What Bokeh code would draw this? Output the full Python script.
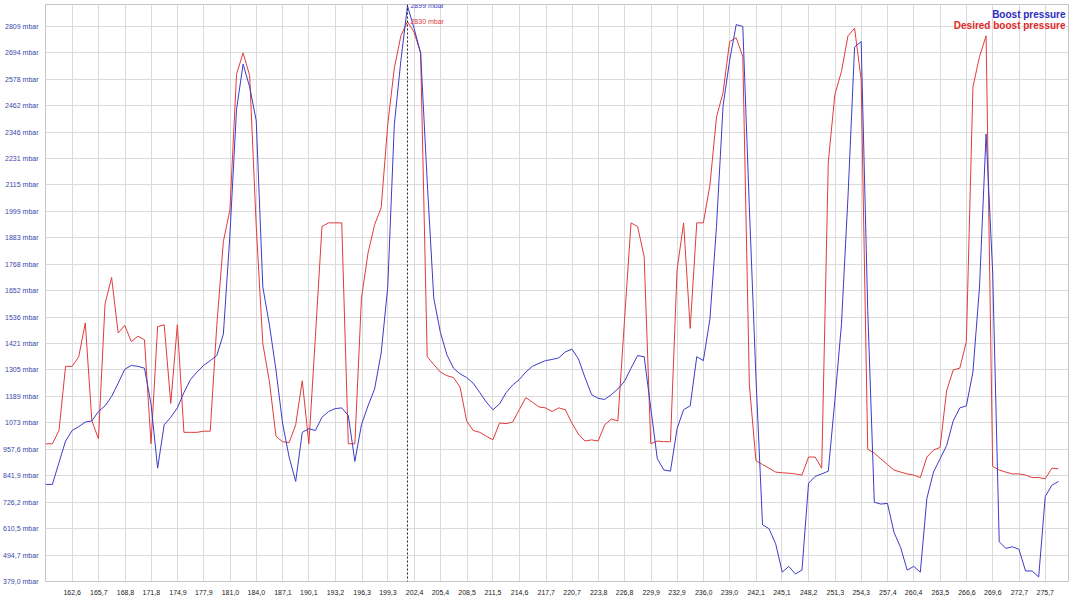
from bokeh.plotting import figure
from bokeh.models import FixedTicker, Span, Label, Range1d
from bokeh.embed import file_html
from bokeh.resources import INLINE

# Boost pressure (mbar), one sample every ~0.764 s
boost = [
    804, 804, 900, 994, 1040, 1057, 1077, 1082, 1123, 1148,
    1189, 1247, 1308, 1325, 1321, 1313, 1156, 875, 1065, 1098,
    1139, 1206, 1263, 1296, 1325, 1346, 1368, 1462, 1900, 2445,
    2644, 2544, 2396, 1668, 1503, 1305, 1073, 924, 817, 1032,
    1048, 1040, 1098, 1123, 1136, 1139, 1106, 905, 1065, 1148,
    1222, 1379, 1668, 2379, 2660, 2899, 2801, 2693, 2131, 1619,
    1470, 1371, 1313, 1288, 1272, 1247, 1206, 1164, 1131, 1156,
    1206, 1239, 1263, 1296, 1321, 1334, 1346, 1351, 1358, 1384,
    1396, 1354, 1272, 1197, 1181, 1176, 1197, 1222, 1255, 1313,
    1368, 1363, 1139, 916, 867, 862, 1048, 1131, 1148, 1363,
    1346, 1528, 1933, 2462, 2660, 2817, 2809, 2015, 1272, 627,
    610, 544, 420, 445, 412, 429, 809, 839, 850, 862,
    1172, 1503, 2065, 2718, 2743, 1569, 726, 718, 721, 594,
    528, 429, 445, 420, 743, 858, 916, 974, 1082, 1139,
    1148, 1296, 1668, 2338, 1734, 553, 524, 531, 520, 425,
    425, 399, 751, 800, 817,
]

# Desired boost pressure (mbar)
desired = [
    982, 982, 1040, 1321, 1321, 1363, 1511, 1082, 1004, 1594,
    1710, 1467, 1500, 1429, 1453, 1437, 982, 1495, 1503, 1159,
    1503, 1032, 1032, 1032, 1037, 1037, 1500, 1867, 2007, 2600,
    2693, 2594, 1933, 1420, 1255, 1015, 991, 987, 1065, 1258,
    982, 1453, 1933, 1949, 1949, 1949, 982, 982, 1619, 1817,
    1941, 2015, 2379, 2627, 2768, 2830, 2784, 2693, 1363, 1329,
    1296, 1280, 1272, 1230, 1082, 1040, 1032, 1015, 999, 1073,
    1070, 1077, 1131, 1184, 1164, 1143, 1139, 1123, 1139, 1131,
    1073, 1024, 994, 999, 994, 1065, 1090, 1082, 1520, 1949,
    1933, 1801, 982, 994, 991, 991, 1743, 1949, 1487, 1949,
    1949, 2115, 2412, 2520, 2743, 2759, 2677, 1239, 908, 891,
    875, 858, 855, 853, 850, 845, 924, 924, 875, 2214,
    2511, 2611, 2768, 2801, 2577, 958, 941, 916, 891, 867,
    858, 850, 845, 834, 924, 954, 966, 1214, 1305, 1313,
    1429, 2544, 2677, 2768, 883, 867, 858, 850, 850, 845,
    834, 834, 829, 875, 872,
]

T0 = 159.54      # time of first sample (s)
DT = 0.7642      # sampling interval (s)
time_s = [round(T0 + DT * i, 3) for i in range(len(boost))]

cursor_index = 55

x_tick_labels = [
    "162,6", "165,7", "168,8", "171,8", "174,9", "177,9", "181,0", "184,0",
    "187,1", "190,1", "193,2", "196,3", "199,3", "202,4", "205,4", "208,5",
    "211,5", "214,6", "217,7", "220,7", "223,8", "226,8", "229,9", "232,9",
    "236,0", "239,0", "242,1", "245,1", "248,2", "251,3", "254,3", "257,4",
    "260,4", "263,5", "266,6", "269,6", "272,7", "275,7",
]
y_tick_values = [379.0, 494.7, 610.5, 726.2, 841.9, 957.6, 1073, 1189, 1305,
                 1421, 1536, 1652, 1768, 1883, 1999, 2115, 2231, 2346, 2462,
                 2578, 2694, 2809]
y_tick_labels = ["379,0 mbar", "494,7 mbar", "610,5 mbar", "726,2 mbar",
                 "841,9 mbar", "957,6 mbar", "1073 mbar", "1189 mbar",
                 "1305 mbar", "1421 mbar", "1536 mbar", "1652 mbar",
                 "1768 mbar", "1883 mbar", "1999 mbar", "2115 mbar",
                 "2231 mbar", "2346 mbar", "2462 mbar", "2578 mbar",
                 "2694 mbar", "2809 mbar"]

BLUE = "#3c3cc8"
RED = "#e03c3c"
FONT = "Liberation Sans"

x_start, x_end = 159.5, 278.4
y_start, y_end = 379.0, 2905.0

p = figure(width=1070, height=597, output_backend="svg", toolbar_location=None,
           x_range=Range1d(x_start, x_end), y_range=Range1d(y_start, y_end),
           min_border_left=0, min_border_right=2, min_border_top=4,
           min_border_bottom=0)
p.background_fill_color = "white"
p.border_fill_color = "white"
p.outline_line_color = "#c4c4c4"

x_tick_values = [float(s.replace(",", ".")) for s in x_tick_labels]
p.xaxis.ticker = FixedTicker(ticks=x_tick_values)
p.xaxis.major_label_overrides = {v: s for v, s in zip(x_tick_values, x_tick_labels)}
p.yaxis.ticker = FixedTicker(ticks=y_tick_values)
p.yaxis.major_label_overrides = {v: s for v, s in zip(y_tick_values, y_tick_labels)}

for ax in (p.xaxis[0], p.yaxis[0]):
    ax.axis_line_color = None
    ax.major_tick_line_color = None
    ax.minor_tick_line_color = None
    ax.major_label_text_font = FONT
    ax.major_label_text_font_size = "7px"
p.xaxis.major_label_standoff = 2
p.yaxis.major_label_standoff = 1
p.xaxis.major_label_text_color = "#222222"
p.yaxis.major_label_text_color = "#3a48a8"

p.xgrid.grid_line_color = "#dadada"
p.ygrid.grid_line_color = "#dadada"
p.xgrid.grid_line_width = 1
p.ygrid.grid_line_width = 1

p.line(time_s, desired, line_color=RED, line_width=1)
p.line(time_s, boost, line_color=BLUE, line_width=1)

# cursor
cx = time_s[cursor_index]
p.add_layout(Span(location=cx, dimension="height", line_color="#202020",
                  line_width=1, line_dash="2 2"))
p.add_layout(Label(x=cx, y=boost[cursor_index], x_offset=3,
                   text=f"{boost[cursor_index]} mbar", text_color=BLUE,
                   text_font=FONT, text_font_size="7px",
                   text_baseline="middle"))
p.add_layout(Label(x=cx, y=desired[cursor_index], x_offset=3,
                   text=f"{desired[cursor_index]} mbar", text_color=RED,
                   text_font=FONT, text_font_size="7px",
                   text_baseline="middle"))

# legend text (top-right)
p.add_layout(Label(x=x_end, y=y_end, x_offset=-3, y_offset=-4,
                   text="Boost pressure", text_color="#2c2cc0",
                   text_font=FONT, text_font_size="10px",
                   text_font_style="bold", text_align="right",
                   text_baseline="top"))
p.add_layout(Label(x=x_end, y=y_end, x_offset=-3, y_offset=-15,
                   text="Desired boost pressure", text_color="#e02828",
                   text_font=FONT, text_font_size="10px",
                   text_font_style="bold", text_align="right",
                   text_baseline="top"))

open("out.html", "w").write(file_html(p, INLINE))
